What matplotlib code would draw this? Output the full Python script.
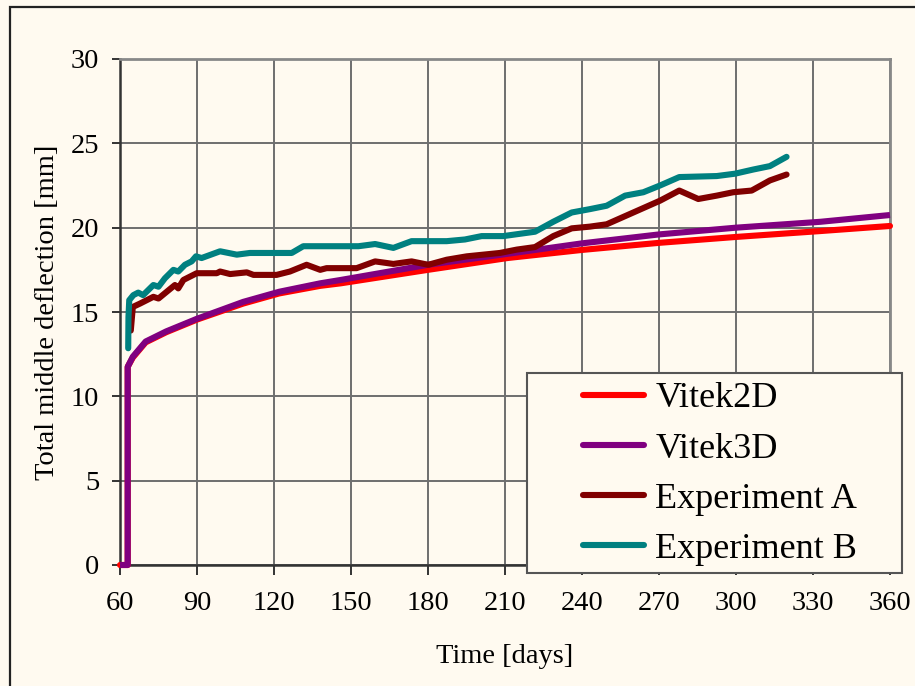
import matplotlib
matplotlib.use("Agg")
import matplotlib.pyplot as plt
from matplotlib.patches import Rectangle

# chart data
vitek_t = [60, 63, 63, 65, 70, 78, 90, 108, 122, 138, 146, 180, 211, 240, 270, 300, 333, 360]
vitek2d = [0, 0, 11.75, 12.3, 13.2, 13.8, 14.55, 15.5, 16.1, 16.55, 16.7, 17.5, 18.2, 18.68, 19.1, 19.45, 19.8, 20.1]
vitek3d = [0, 0, 11.75, 12.35, 13.25, 13.85, 14.6, 15.6, 16.2, 16.7, 16.9, 17.8, 18.45, 19.07, 19.6, 20.0, 20.35, 20.75]

exp_a_t = [64.2, 65, 67.8, 73, 75, 78.2, 81.4, 82.7, 84.7, 87.3, 89.9, 97.7, 99, 102.9, 109.4,
           112, 121, 126.2, 132.7, 138, 140.5, 152.2, 159.4, 166.5, 173.6, 180.1, 187.3, 195.1,
           208, 214.6, 221.7, 228.8, 236, 243, 249.6, 270.4, 277.9, 285.3, 292.5, 298.9, 306.1,
           313.2, 319.7]
exp_a = [13.9, 15.3, 15.5, 15.9, 15.8, 16.2, 16.6, 16.4, 16.9, 17.1, 17.3, 17.3, 17.4, 17.25, 17.35,
         17.2, 17.2, 17.4, 17.8, 17.5, 17.6, 17.6, 18.0, 17.85, 18.0, 17.8, 18.1, 18.3,
         18.5, 18.7, 18.85, 19.5, 19.96, 20.06, 20.2, 21.6, 22.2, 21.7, 21.9, 22.1, 22.2,
         22.8, 23.15]

exp_b_t = [63.2, 63.3, 63.6, 65.2, 67.1, 69, 73, 75, 77.5, 80.8, 82.7, 85.3, 87.9, 89.6, 91.8,
           99, 105.5, 110.6, 126.9, 131.4, 152.9, 159.4, 166.5, 173.6, 187.3, 194.4, 200.9,
           209.3, 221.7, 228.8, 236, 243.1, 249.6, 256.8, 263.9, 270.4, 277.9, 292.5, 299.6,
           306.8, 313.2, 319.7]
exp_b = [12.85, 14.7, 15.7, 16.0, 16.15, 16.0, 16.6, 16.5, 17.0, 17.5, 17.4, 17.8, 18.0, 18.3, 18.2,
         18.6, 18.4, 18.5, 18.5, 18.9, 18.9, 19.03, 18.8, 19.2, 19.2, 19.3, 19.5,
         19.5, 19.76, 20.35, 20.9, 21.1, 21.3, 21.9, 22.1, 22.5, 23.0, 23.06, 23.2,
         23.45, 23.65, 24.2]

x_ticks = list(range(60, 361, 30))
y_ticks = list(range(0, 31, 5))

bg = "#FFFAF0"
plt.rcParams["font.family"] = ["Liberation Serif", "DejaVu Serif"]

W, H = 915, 686
fig = plt.figure(figsize=(W / 100, H / 100), dpi=100, facecolor=bg)
ax = fig.add_axes([120 / W, 1 - 565 / H, 770 / W, 506 / H], facecolor=bg)

lw = 4.4
ax.plot(vitek_t, vitek2d, color="#FF0000", lw=lw, label="Vitek2D", clip_on=False,
        solid_capstyle="round", solid_joinstyle="round", zorder=3)
ax.plot(vitek_t, vitek3d, color="#800080", lw=lw, label="Vitek3D", clip_on=False,
        solid_capstyle="butt", solid_joinstyle="round", zorder=3)
ax.plot(exp_a_t, exp_a, color="#800000", lw=lw, label="Experiment A",
        solid_capstyle="round", solid_joinstyle="round", zorder=3)
ax.plot(exp_b_t, exp_b, color="#008080", lw=lw, label="Experiment B",
        solid_capstyle="round", solid_joinstyle="round", zorder=3)

ax.set_xlim(60, 360)
ax.set_ylim(0, 30)
ax.set_xticks(x_ticks)
ax.set_yticks(y_ticks)
ax.grid(True, color="#6e6e6e", lw=1.4)
ax.set_axisbelow(True)

for s in ["top", "right"]:
    ax.spines[s].set_color("#888888")
    ax.spines[s].set_linewidth(2)
for s in ["left", "bottom"]:
    ax.spines[s].set_color("#333333")
    ax.spines[s].set_linewidth(1.8)

ax.tick_params(axis="y", length=6, width=1.4, color="#333333", pad=9, labelsize=20.5)
ax.tick_params(axis="x", length=7, width=1.4, color="#333333", pad=12, labelsize=20.5)

ax.set_xlabel("Time [days]", fontsize=20.5, labelpad=20)
ax.set_ylabel("Total middle deflection [mm]", fontsize=20.5, labelpad=8)

# legend box
fig.patches.append(Rectangle((527 / W, 1 - 573 / H), 375 / W, 200 / H, transform=fig.transFigure,
                             facecolor=bg, edgecolor="#555555", lw=1.5, zorder=3))
handles, labels = ax.get_legend_handles_labels()
leg = fig.legend(handles, labels, loc="center left", bbox_to_anchor=(565 / W, 1 - 474 / H),
                 frameon=False, fontsize=26, handlelength=1.7, handletextpad=0.3,
                 labelspacing=0.47, borderpad=0)
leg.set_zorder(5)
for line in leg.get_lines():
    line.set_solid_capstyle("round")

# outer chart border
fig.patches.append(Rectangle((10 / W, -0.2), 1.2, 1.2 - 7 / H, transform=fig.transFigure,
                             fill=False, edgecolor="#222222", lw=1.6, zorder=6))

fig.savefig("out.png", dpi=100, facecolor=bg)
